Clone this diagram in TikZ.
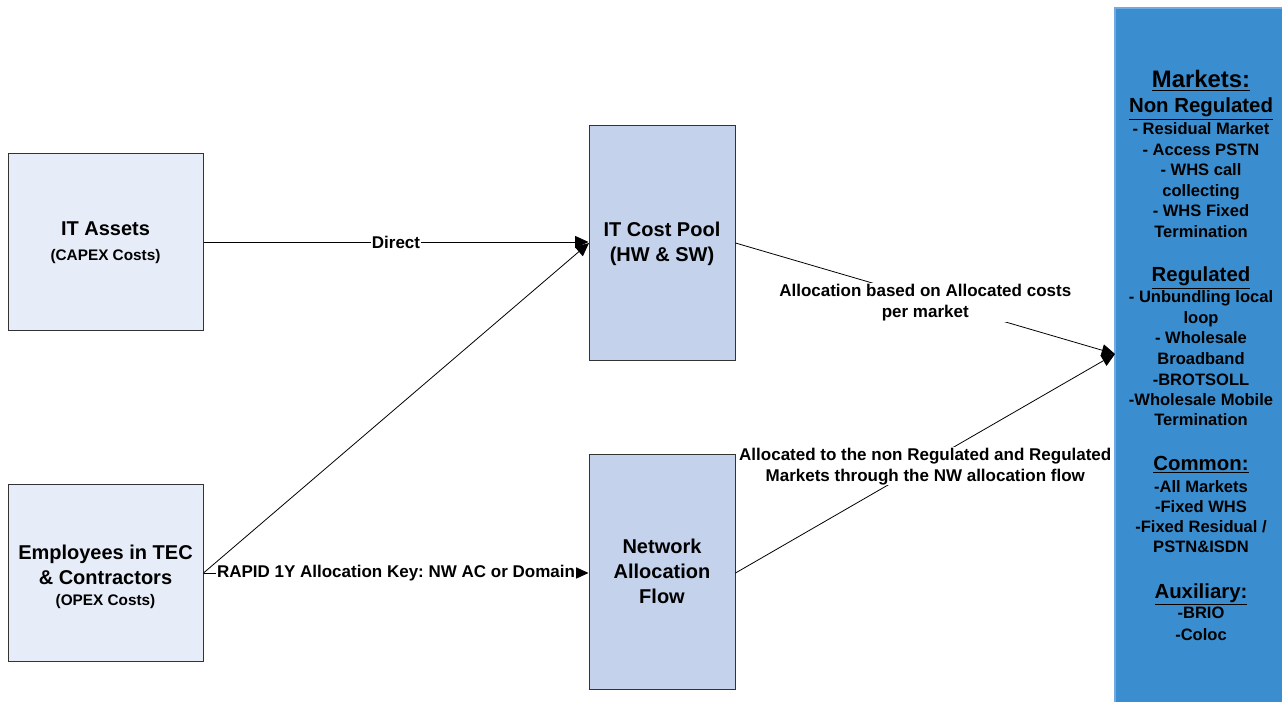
\documentclass[tikz,border=0pt]{standalone}
\usepackage{fontspec}
\setmainfont{Liberation Sans}
\usetikzlibrary{arrows.meta}
\frenchspacing
\definecolor{lightbox}{HTML}{E7EDF8}
\definecolor{midbox}{HTML}{C4D2EC}
\definecolor{mktfill}{HTML}{3A8ECF}
\definecolor{mktline}{HTML}{6FAAE0}
\definecolor{boxline}{HTML}{333333}
\tikzset{
  srcbox/.style={draw=boxline, line width=0.75pt, fill=lightbox, minimum width=195*0.75pt, minimum height=177*0.75pt, align=center, inner sep=0pt, font=\fontsize{15}{18.75}\selectfont\bfseries},
  poolbox/.style={draw=boxline, line width=0.75pt, fill=midbox, minimum width=146*0.75pt, minimum height=235*0.75pt, align=center, inner sep=0pt, font=\fontsize{15}{18.75}\selectfont\bfseries},
  flow/.style={draw=black, line width=0.6pt, -{Triangle[length=10pt,width=9pt]}},
  lbl/.style={fill=white, inner sep=0.5pt, align=center, font=\fontsize{12.75}{15.75}\selectfont\bfseries},
  mkt/.style={anchor=base, inner sep=0pt, font=\fontsize{12.4}{15}\selectfont\bfseries},
  mkthead/.style={anchor=base, inner sep=0pt, font=\fontsize{15.3}{18}\selectfont\bfseries},
}
\newcommand{\smallline}[1]{{\fontsize{11.5}{17.25}\selectfont #1}}
\newcommand{\ul}[1]{\underline{#1}}
\begin{document}
\begin{tikzpicture}[x=0.75pt, y=-0.75pt]
\useasboundingbox (0,0) rectangle (1282,702);
% Markets column
\fill[mktfill] (1115,8) rectangle (1290,710);
\draw[mktline, line width=1pt] (1115,710) -- (1115,8) -- (1290,8);
% boxes
\node (assets) [srcbox] at (105.5,242.5) {IT Assets\\\smallline{(CAPEX Costs)}};
\node (emp) [srcbox] at (105.5,572.5) {\rule{0pt}{17pt}Employees in TEC\\\& Contractors\\[-3pt]\smallline{(OPEX Costs)}};
\node (pool) [poolbox] at (662,243.5) {IT Cost Pool\\(HW \& SW)};
\node (net) [poolbox] at (662,571.5) {Network\\Allocation\\Flow};
\coordinate (poolin) at (589,243);
\coordinate (mktin) at (1115,354);
% connectors
\draw[flow] (assets.east |- 0,242) -- node[lbl, midway] {Direct} (pool.west |- 0,242);
\draw[flow] (emp.east |- 0,573) -- (poolin);
\draw[flow] (emp.east |- 0,573) -- node[lbl, midway] {RAPID 1Y Allocation Key: NW AC or Domain} (net.west |- 0,573);
\draw[flow] (pool.east |- 0,243) -- node[lbl, midway, yshift=-3pt] {Allocation based on Allocated costs\\per market} (mktin);
\draw[flow] (net.east |- 0,573) -- node[lbl, midway, yshift=-2pt] {Allocated to the non Regulated and Regulated\\Markets through the NW allocation flow} (mktin);
% markets text
\node (m1) [anchor=base, inner sep=0pt, font=\fontsize{17.9}{20}\selectfont\bfseries] at (1201,88) {\ul{Markets:}};
\foreach \y/\t [count=\i] in {113/Non Regulated, 282/Regulated, 470/Common:, 598/Auxiliary:}
  \node (h\i) [mkthead] at (1201,\y) {\ul{\t}};
\foreach \y/\t [count=\i] in {135/- Residual Market, 155.5/- Access PSTN, 176/- WHS call, 196.5/collecting, 217/- WHS Fixed, 237.5/Termination, 303/- Unbundling local, 323.5/loop, 344/- Wholesale, 364.5/Broadband, 385/-BROTSOLL, 405.5/-Wholesale Mobile, 426/Termination, 492/-All Markets, 512/-Fixed WHS, 532/{-Fixed Residual /}, 552/PSTN\&ISDN, 618/-BRIO, 640/-Coloc}
  \node (i\i) [mkt] at (1201,\y) {\t};
\end{tikzpicture}
\end{document}
